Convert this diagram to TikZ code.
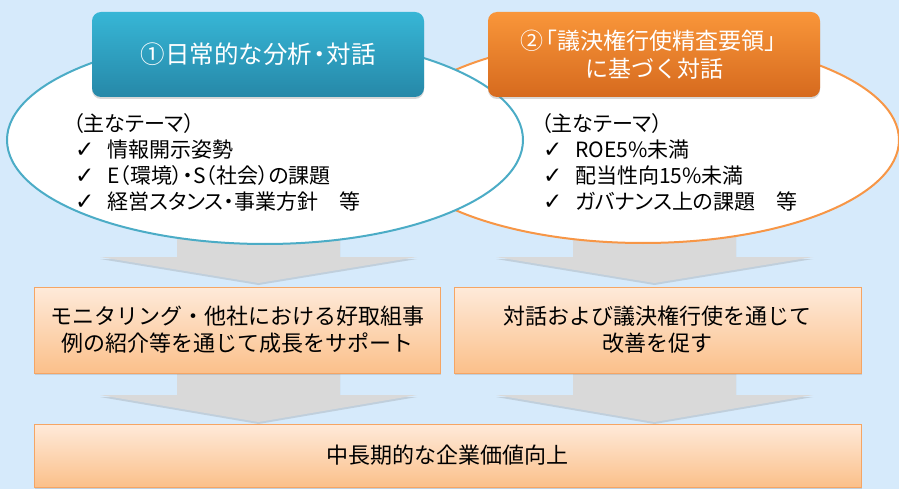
\documentclass[tikz,border=0pt]{standalone}
\usepackage{fontspec}
\setmainfont{Noto Sans CJK JP}
\newfontfamily\pfont[RawFeature=+palt]{Noto Sans CJK JP}
\newfontfamily\symfont{DejaVu Sans}
\usetikzlibrary{shapes.geometric,shadows}
\definecolor{bgblue}{RGB}{214,234,251}
\definecolor{tealline}{RGB}{75,172,198}
\definecolor{orangeline}{RGB}{247,150,70}
\definecolor{bluetop}{RGB}{55,182,214}
\definecolor{bluebot}{RGB}{38,136,168}
\definecolor{ortop}{RGB}{249,150,58}
\definecolor{orbot}{RGB}{214,106,30}
\definecolor{peachtop}{RGB}{254,234,218}
\definecolor{peachbot}{RGB}{251,192,138}
\definecolor{peachline}{RGB}{245,165,100}
\definecolor{arrowgray}{RGB}{217,217,217}
\newcommand{\chk}{\makebox[32pt][l]{\symfont\fontsize{23}{20}\selectfont ✓}}
\begin{document}
\begin{tikzpicture}[x=1pt,y=-1pt,
  bigell/.style={ellipse, fill=white, line width=2pt, inner sep=0pt},
  titlebox/.style={rounded corners=9pt, minimum width=332pt, minimum height=85pt,
    text=white, align=center, font=\fontsize{23}{28}\selectfont,
    drop shadow={opacity=0.3, shadow xshift=0pt, shadow yshift=-2pt}},
  resultbox/.style={draw=peachline, line width=1pt, top color=peachtop, bottom color=peachbot,
    align=center, font=\fontsize{22}{27}\selectfont, inner sep=0pt,
    drop shadow={opacity=0.25, shadow xshift=1pt, shadow yshift=-2pt}},
  eltext/.style={anchor=base west, inner sep=0pt, font=\pfont\fontsize{21}{26}\selectfont},
  grayarrow/.style={fill=arrowgray, drop shadow={opacity=0.25, shadow xshift=0pt, shadow yshift=-2pt}}
]
\fill[bgblue] (0,0) rectangle (899,489);
\useasboundingbox (0,0) rectangle (899,489);

% gray arrows
\foreach \cx/\ya/\yb/\yc in {258.5/220/257/283, 258.5/372/395/422, 654.5/220/257/283, 654.5/372/395/422}{
  \fill[grayarrow] (\cx-81.5,\ya) -- (\cx+81.5,\ya) -- (\cx+81.5,\yb) -- (\cx+158.5,\yb)
     -- (\cx,\yc) -- (\cx-158.5,\yb) -- (\cx-81.5,\yb) -- cycle;
}

% ellipses
\node[bigell, draw=orangeline, minimum width=512pt, minimum height=206pt] (e2) at (643,140) {};
\node[bigell, draw=tealline, minimum width=516pt, minimum height=208pt] (e1) at (265,140) {};

% title boxes
\node[titlebox, top color=bluetop, bottom color=bluebot, font=\fontsize{24.5}{28}\selectfont] (t1) at (258,54.5) {①日常的な分析\hspace{-5pt}・\hspace{-5pt}対話};
\node[titlebox, top color=ortop, bottom color=orbot] (t2) at (654,54.5) {②\hspace{-9pt}「議決権行使精査要領」\\に基づく対話};

% ellipse texts
\node[eltext] (a0) at (73,132) {（主なテーマ）};
\node[eltext] (a1) at (75,158) {\chk 情報開示姿勢};
\node[eltext] (a2) at (75,184) {\chk E（環境）・S（社会）の課題};
\node[eltext] (a3) at (75,210) {\chk 経営スタンス・事業方針　等};

\node[eltext] (b0) at (541,132) {（主なテーマ）};
\node[eltext] (b1) at (543,158) {\chk ROE5\%未満};
\node[eltext] (b2) at (543,184) {\chk 配当性向15\%未満};
\node[eltext] (b3) at (543,210) {\chk ガバナンス上の課題　等};

% result boxes
\node[resultbox, minimum width=406pt, minimum height=86pt] (r1) at (237,330)
  {モニタリング・他社における好取組事\\例の紹介等を通じて成長をサポート};
\node[resultbox, minimum width=407pt, minimum height=86pt] (r2) at (657.5,330)
  {対話および議決権行使を通じて\\改善を促す};
\node[resultbox, minimum width=827pt, minimum height=63pt] (r3) at (447.5,455.5)
  {中長期的な企業価値向上};
\end{tikzpicture}
\end{document}
